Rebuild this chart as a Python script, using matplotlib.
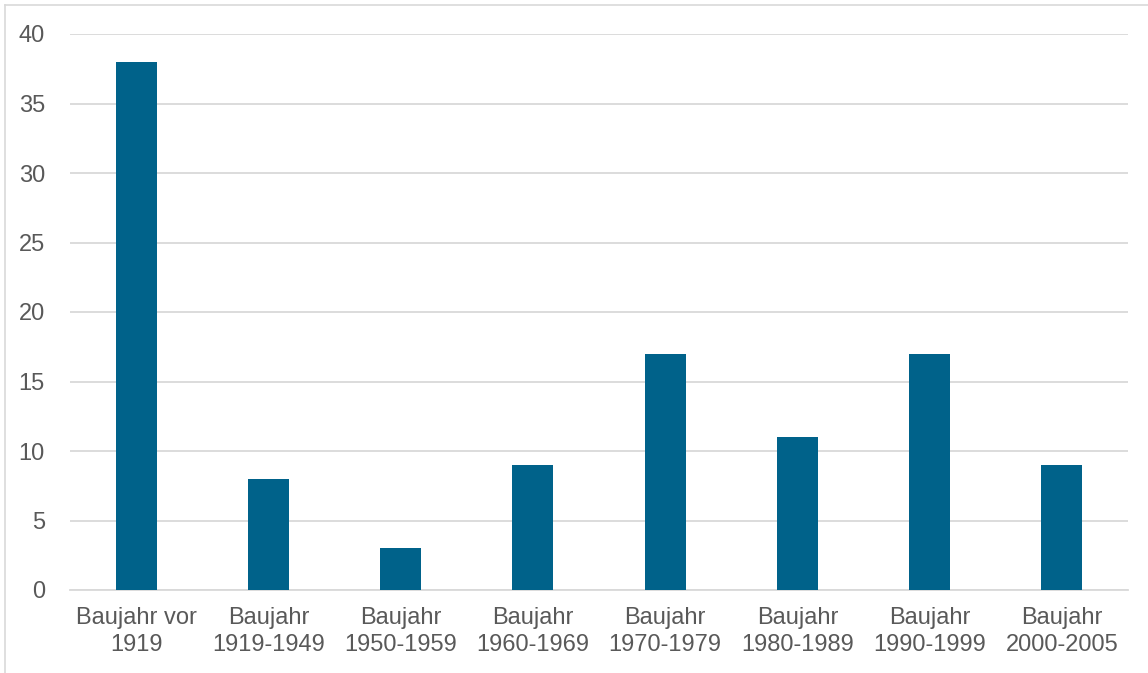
import matplotlib.pyplot as plt
from matplotlib.lines import Line2D

# -------------------------------
# Data
# -------------------------------
categories = [
    "Baujahr vor\n1919",
    "Baujahr\n1919-1949",
    "Baujahr\n1950-1959",
    "Baujahr\n1960-1969",
    "Baujahr\n1970-1979",
    "Baujahr\n1980-1989",
    "Baujahr\n1990-1999",
    "Baujahr\n2000-2005",
]
values = [38, 8, 3, 9, 17, 11, 17, 9]
y_ticks = [0, 5, 10, 15, 20, 25, 30, 35, 40]

plt.rcParams["font.family"] = ["Liberation Sans", "DejaVu Sans"]

W, H = 1148, 673
fig = plt.figure(figsize=(W / 100, H / 100), dpi=100)
ax = fig.add_axes([70 / W, 1 - 590 / H, (1128 - 70) / W, (590 - 34) / H])

x = range(len(categories))
ax.bar(x, values, width=0.31, color="#00628a", zorder=3)

ax.set_xlim(-0.5, len(categories) - 0.5)
ax.set_ylim(0, 40)
ax.set_yticks(y_ticks)
ax.set_xticks(list(x))
ax.set_xticklabels(categories, linespacing=1.32)

ax.grid(axis="y", color="#d9d9d9", linewidth=1.3, zorder=0)
for s in ["top", "right", "left"]:
    ax.spines[s].set_visible(False)
ax.spines["bottom"].set_color("#d9d9d9")
ax.spines["bottom"].set_linewidth(1.3)
ax.tick_params(axis="both", length=0, labelsize=17, colors="#595959")
ax.tick_params(axis="x", pad=12)
ax.tick_params(axis="y", pad=18)

# light frame on left and top edges
fig.add_artist(Line2D([5 / W, 5 / W], [0, 1 - 5 / H], transform=fig.transFigure,
                      color="#d9d9d9", linewidth=1.2))
fig.add_artist(Line2D([5 / W, 1], [1 - 5 / H, 1 - 5 / H], transform=fig.transFigure,
                      color="#d9d9d9", linewidth=1.2))

fig.savefig("out.png", dpi=100)
